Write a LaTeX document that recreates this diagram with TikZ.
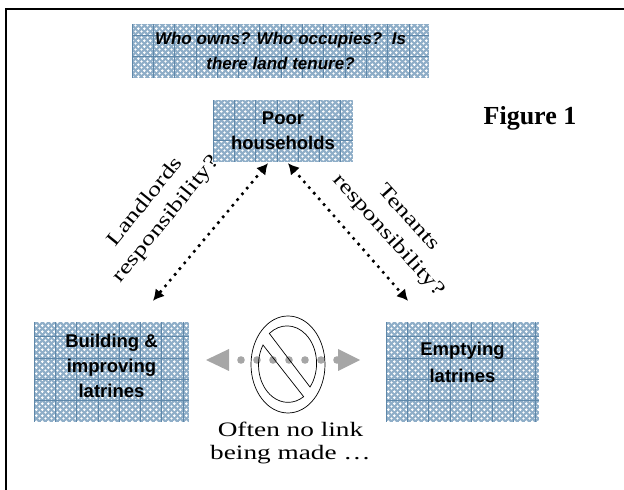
\documentclass[tikz,border=0pt]{standalone}
\usepackage{fontspec}
\setmainfont{Liberation Serif}
\setsansfont{Liberation Sans}
\newfontfamily\wideserif[FakeStretch=1.33]{Liberation Serif}
\usetikzlibrary{patterns,arrows.meta}

\pgfdeclarepatternformonly{weave}{\pgfqpoint{0pt}{0pt}}{\pgfqpoint{6.4pt}{6.4pt}}{\pgfqpoint{6.4pt}{6.4pt}}{
	\pgfpathrectangle{\pgfqpoint{1.1pt}{0.3pt}}{\pgfqpoint{1pt}{2.6pt}}
	\pgfpathrectangle{\pgfqpoint{0.3pt}{1.1pt}}{\pgfqpoint{2.6pt}{1pt}}
	\pgfpathrectangle{\pgfqpoint{4.3pt}{3.5pt}}{\pgfqpoint{1pt}{2.6pt}}
	\pgfpathrectangle{\pgfqpoint{3.5pt}{4.3pt}}{\pgfqpoint{2.6pt}{1pt}}
	\pgfusepath{fill}
}
\definecolor{boxblue}{HTML}{8FAEC8}
\definecolor{gridblue}{HTML}{5F88AA}
\definecolor{linkgrey}{HTML}{A6A6A6}

\tikzset{
	textbox/.style={rectangle,fill=boxblue,align=center,font=\sffamily\bfseries\fontsize{18.5}{25}\selectfont,inner sep=0pt,
		path picture={
			\fill [pattern=weave,pattern color=white] (path picture bounding box.south west) rectangle (path picture bounding box.north east);
			\foreach \i in {0,21.3,...,300}{
				\draw [gridblue,line width=.7pt] ([xshift=\i pt]path picture bounding box.south west) -- ([xshift=\i pt]path picture bounding box.north west);
			}
			\foreach \i in {0,21.3,...,105}{
				\draw [gridblue,line width=.7pt] ([yshift=\i pt]path picture bounding box.south west) -- ([yshift=\i pt]path picture bounding box.south east);
			}
		}},
	link/.style={line width=3.6pt,line cap=round,dash pattern=on 0pt off 7.5pt,{Latex[length=11pt,width=12pt]}-{Latex[length=11pt,width=12pt]}},
	serifnote/.style={align=center,font=\wideserif\fontsize{20}{27}\selectfont,inner sep=0pt},
}

\begin{document}
\begin{tikzpicture}[x=1pt,y=1pt]
\useasboundingbox (0,0) rectangle (624,490);
\draw [line width=2pt] (6,-5) -- (6,481) -- (630,481);

\node [textbox,minimum width=297pt,minimum height=54pt] (owners) at (280.5,439) {\fontsize{17}{22}\selectfont\itshape Who owns? Who occupies?\ \ Is\\\fontsize{17}{22}\selectfont\itshape there land tenure?};
\node [textbox,minimum width=140pt,minimum height=62pt] (poor) at (283,359) {Poor\\households};
\node [textbox,minimum width=155pt,minimum height=100pt] (build) at (111.5,118) {Building \&\\improving\\latrines\\[-13pt]};
\node [textbox,minimum width=153pt,minimum height=100pt] (empty) at (462.5,118) {Emptying\\[2pt]latrines\\[-6pt]};

\node [font=\bfseries\fontsize{26}{30}\selectfont] (figlabel) at (530,371.5) {Figure 1};

\draw [link] ([xshift=-15pt,yshift=-1pt]poor.south) -- ([xshift=41.5pt,yshift=21pt]build.north);
\draw [link] ([xshift=5pt,yshift=-1pt]poor.south) -- ([xshift=-54.5pt,yshift=21pt]empty.north);

\node [serifnote,rotate=51] (landlords) at (156,279) {Landlords\\responsibility?};
\node [serifnote,rotate=-48] (tenants) at (398,263) {Tenants\\responsibility?};

% broken link between the two latrine boxes
\fill [linkgrey] (206,130) -- (229,141) -- (229,119) -- cycle;
\fill [linkgrey] (360,130) -- (338,141) -- (338,119) -- cycle;
\foreach \i in {241,257,...,337}{
	\fill [linkgrey] (\i,130) circle (3.8pt);
}
\draw [line width=.7pt] (288,125.5) ellipse (37 and 48.5);
\draw [line width=.7pt] (263,145) arc [start angle=148,end angle=302,x radius=29.5,y radius=37.5] -- cycle;
\draw [line width=.7pt] (310,103) arc [start angle=-39,end angle=127,x radius=29.5,y radius=37.5] -- cycle;

\node [serifnote,font=\wideserif\fontsize{20.5}{23}\selectfont] (nolink) at (290.5,47.5) {Often no link\\being made \dots};
\end{tikzpicture}
\end{document}
